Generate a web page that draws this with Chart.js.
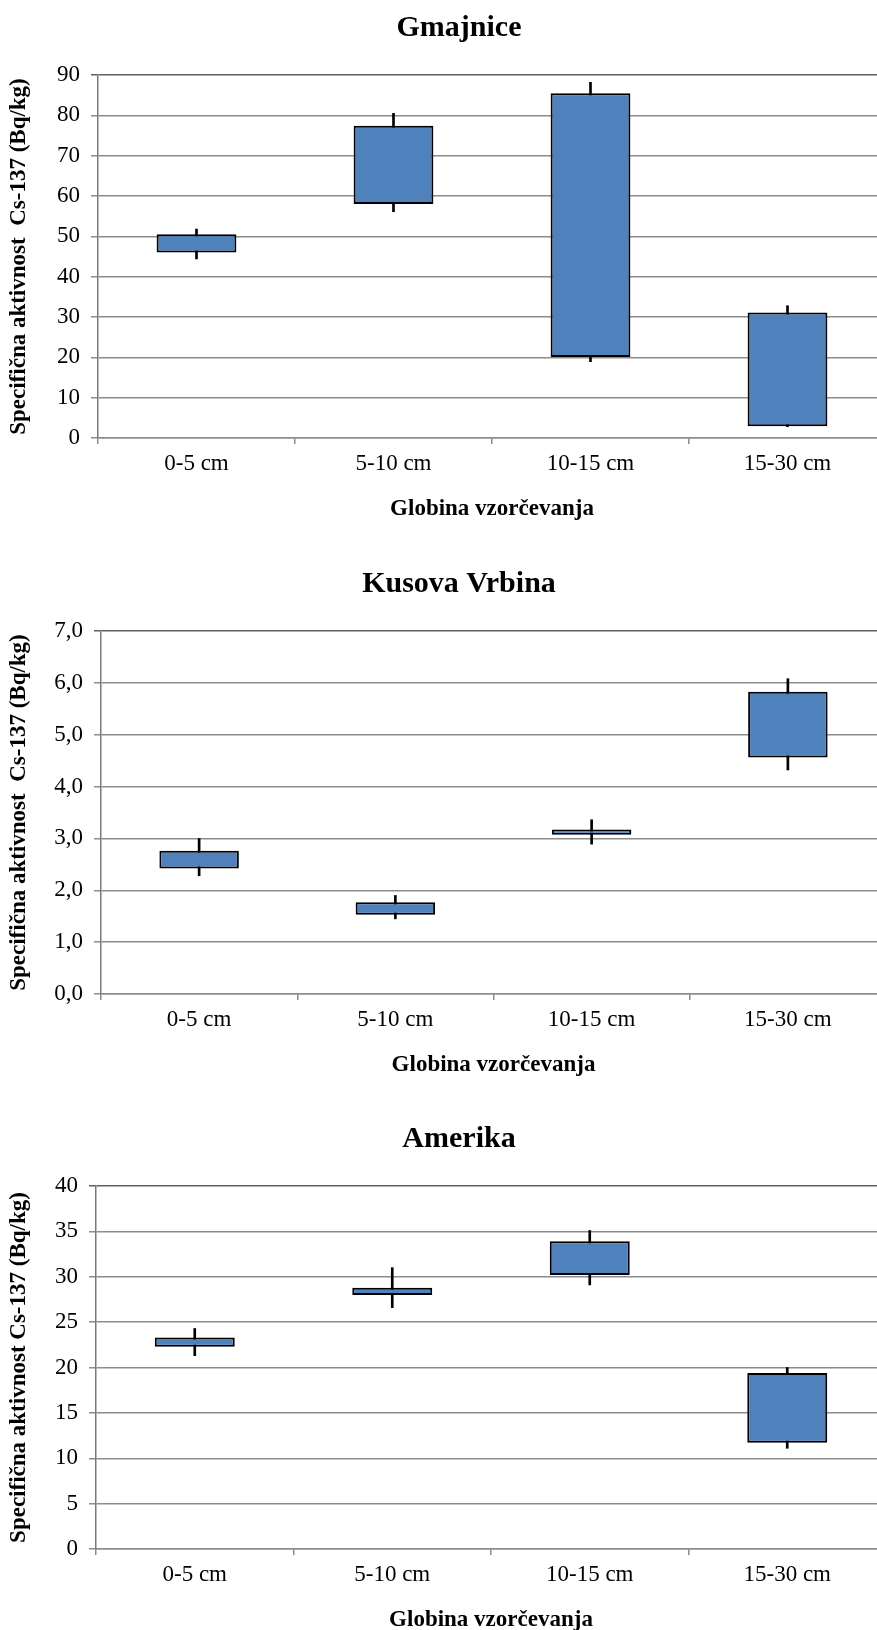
<!DOCTYPE html>
<html>
<head>
<meta charset="utf-8">
<script src="https://cdn.jsdelivr.net/npm/chart.js@4.4.1/dist/chart.umd.min.js"></script>
<style>
  html, body { margin: 0; padding: 0; background: #fff; overflow: hidden; }
  body { width: 877px; height: 1630px; position: relative; }
  .box { position: absolute; left: 0; width: 904px; height: 530px; }
</style>
</head>
<body>
<div class="box" style="top:0"><canvas id="chartGmajnice"></canvas></div>
<div class="box" style="top:556px"><canvas id="chartKusova"></canvas></div>
<div class="box" style="top:1111px"><canvas id="chartAmerika"></canvas></div>
<script>
const categories = ['0-5 cm', '5-10 cm', '10-15 cm', '15-30 cm'];

// Gmajnice (Bq/kg)
const gmajniceBoxLow = [46.0, 58.0, 20.1, 2.9];
const gmajniceBoxHigh = [50.5, 77.4, 85.5, 31.1];
const gmajniceMin = [44.4, 56.1, 18.9, 2.8];
const gmajniceMax = [51.8, 80.5, 88.2, 32.8];

// Kusova Vrbina (Bq/kg)
const kusovaBoxLow = [2.42, 1.53, 3.07, 4.56];
const kusovaBoxHigh = [2.76, 1.77, 3.17, 5.83];
const kusovaMin = [2.28, 1.45, 2.89, 4.32];
const kusovaMax = [3.00, 1.90, 3.36, 6.08];

// Amerika (Bq/kg)
const amerikaBoxLow = [22.3, 28.0, 30.2, 11.7];
const amerikaBoxHigh = [23.3, 28.8, 33.9, 19.4];
const amerikaMin = [21.3, 26.6, 29.1, 11.1];
const amerikaMax = [24.3, 31.0, 35.1, 20.0];

const serif = "'Liberation Serif', 'Times New Roman', serif";
const gridGray = '#8c8c8c';

function makeChart(id, title, yTitle, yMax, yStep, yWidth, decimals, boxLow, boxHigh, lows, highs) {
  const ctx = document.getElementById(id).getContext('2d');
  return new Chart(ctx, {
    type: 'bar',
    data: {
      labels: categories,
      datasets: [{
        label: 'range',
        data: lows.map((v, i) => [v, highs[i]]),
        backgroundColor: '#000000',
        borderWidth: 0,
        barThickness: 2,
        grouped: false,
        order: 2
      }, {
        label: 'box',
        data: boxLow.map((v, i) => [v, boxHigh[i]]),
        backgroundColor: '#4f81bd',
        borderColor: '#000000',
        borderWidth: 2,
        borderSkipped: false,
        categoryPercentage: 1,
        barPercentage: 0.405,
        grouped: false,
        order: 1
      }]
    },
    options: {
      responsive: true,
      maintainAspectRatio: false,
      animation: false,
      layout: { padding: { left: 32, right: 18, top: 0, bottom: 0 } },
      plugins: {
        legend: { display: false },
        tooltip: { enabled: false },
        title: {
          display: true,
          text: title,
          color: '#000',
          font: { family: serif, size: 30, weight: 'bold' },
          padding: { top: 10, bottom: 29 }
        }
      },
      scales: {
        x: {
          afterFit: (axis) => { axis.height = 92; },
          border: { color: gridGray, width: 1.5 },
          grid: { drawOnChartArea: false, drawTicks: true, tickLength: 6, color: gridGray, lineWidth: 1.5 },
          ticks: { color: '#000', padding: 6, font: { family: serif, size: 23 } },
          title: {
            display: true,
            text: 'Globina vzorčevanja',
            color: '#000',
            font: { family: serif, size: 23, weight: 'bold' },
            padding: { top: 0, bottom: 7 }
          }
        },
        y: {
          min: 0,
          max: yMax,
          afterFit: (axis) => { axis.width = yWidth - 10; },
          border: { color: '#7a7a7a', width: 1.5 },
          grid: {
            color: (c) => (c.tick && c.tick.value === yMax ? '#5f5f5f' : gridGray),
            lineWidth: 1.5,
            tickLength: 7,
            drawTicks: true
          },
          ticks: {
            stepSize: yStep,
            color: '#000',
            padding: 11,
            font: { family: serif, size: 23 },
            callback: (v) => decimals ? v.toFixed(decimals).replace('.', ',') : v
          },
          title: {
            display: true,
            text: yTitle,
            color: '#000',
            font: { family: serif, size: 23, weight: 'bold' },
            padding: { top: -27, bottom: 0 }
          }
        }
      }
    }
  });
}

makeChart('chartGmajnice', 'Gmajnice', 'Specifična aktivnost  Cs-137 (Bq/kg)', 90, 10, 76, 0,
  gmajniceBoxLow, gmajniceBoxHigh, gmajniceMin, gmajniceMax);
makeChart('chartKusova', 'Kusova Vrbina', 'Specifična aktivnost  Cs-137 (Bq/kg)', 7, 1, 79, 1,
  kusovaBoxLow, kusovaBoxHigh, kusovaMin, kusovaMax);
makeChart('chartAmerika', 'Amerika', 'Specifična aktivnost Cs-137 (Bq/kg)', 40, 5, 74, 0,
  amerikaBoxLow, amerikaBoxHigh, amerikaMin, amerikaMax);
</script>
</body>
</html>
